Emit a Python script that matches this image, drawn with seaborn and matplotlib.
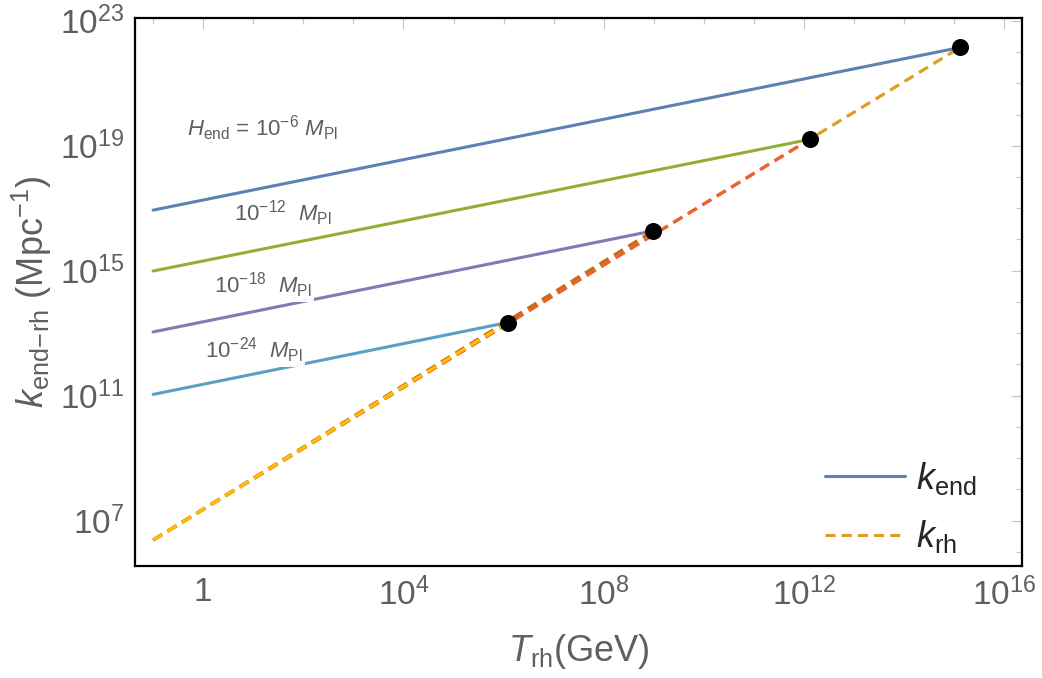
import matplotlib
matplotlib.use("Agg")
import matplotlib.lines as mlines
import matplotlib.pyplot as plt
import matplotlib.ticker as mticker
import pandas as pd
import seaborn as sns

# reheating temperature (GeV) where the curves start, and where each one ends
T_min = 0.1
T_end = [1.3e15, 1.3e12, 9.8e8, 1.2e6]

# k_end at T_min and at T_end (k_end = k_rh at the end point), in Mpc^-1
k_end_lo = [8.7e16, 9.8e14, 1.1e13, 1.1e11]
k_end_hi = [1.4e22, 1.6e19, 1.9e16, 2.2e13]
# k_rh at T_min
k_rh_lo = 2.4e6

H_labels = [
    r"$H_{\mathrm{end}}$ = $10^{-6}$ $M_{\mathrm{Pl}}$",
    r"$10^{-12}$  $M_{\mathrm{Pl}}$",
    r"$10^{-18}$  $M_{\mathrm{Pl}}$",
    r"$10^{-24}$  $M_{\mathrm{Pl}}$",
]

x_ticks = [1, 1e4, 1e8, 1e12, 1e16]
x_tick_labels = ["1", r"$10^{4}$", r"$10^{8}$", r"$10^{12}$", r"$10^{16}$"]
y_ticks = [1e7, 1e11, 1e15, 1e19, 1e23]
y_tick_labels = [r"$10^{7}$", r"$10^{11}$", r"$10^{15}$", r"$10^{19}$", r"$10^{23}$"]

# mathematica default palette
end_colors = ["#5E81B5", "#8FB032", "#8778B3", "#5D9EC7"]
rh_colors = ["#E19C24", "#EB6235", "#C56E1A", "#FFBF00"]

sns.set_style("white")
plt.rcParams["font.family"] = ["Liberation Sans", "DejaVu Sans"]
plt.rcParams["mathtext.fontset"] = "custom"
plt.rcParams["mathtext.rm"] = "Liberation Sans"
plt.rcParams["mathtext.it"] = "Liberation Sans:italic"
plt.rcParams["mathtext.bf"] = "Liberation Sans:bold"

gray = "#5f5f5f"

# build long table: one row per point
rows = []
for i in range(len(T_end)):
    rows.append(dict(curve=f"end{i}", T=T_min, k=k_end_lo[i]))
    rows.append(dict(curve=f"end{i}", T=T_end[i], k=k_end_hi[i]))
    rows.append(dict(curve=f"rh{i}", T=T_min, k=k_rh_lo))
    rows.append(dict(curve=f"rh{i}", T=T_end[i], k=k_end_hi[i]))
df = pd.DataFrame(rows)

fig = plt.figure(figsize=(10.42, 6.78), dpi=100)
ax = fig.add_axes([0.1296, 0.1652, 0.8512, 0.8083])

for i in range(len(T_end)):
    sns.lineplot(
        data=df[df["curve"] == f"end{i}"], x="T", y="k",
        color=end_colors[i], linewidth=2.2, sort=False, estimator=None, ax=ax,
    )
for i in range(len(T_end)):
    sns.lineplot(
        data=df[df["curve"] == f"rh{i}"], x="T", y="k",
        color=rh_colors[i], linewidth=2.3, linestyle=(0, (3.3, 2.0)),
        sort=False, estimator=None, ax=ax,
    )

sns.scatterplot(x=T_end, y=k_end_hi, color="black", s=150, linewidth=0, zorder=5, ax=ax)

ax.set_xscale("log")
ax.set_yscale("log")
ax.set_xlim(10**-1.36, 10**16.35)
ax.set_ylim(10**5.55, 10**23.09)

ax.xaxis.set_major_locator(mticker.FixedLocator(x_ticks))
ax.xaxis.set_major_formatter(mticker.FixedFormatter(x_tick_labels))
ax.xaxis.set_minor_locator(mticker.FixedLocator([10.0**e for e in range(-1, 17)]))
ax.xaxis.set_minor_formatter(mticker.NullFormatter())
ax.yaxis.set_major_locator(mticker.FixedLocator(y_ticks))
ax.yaxis.set_major_formatter(mticker.FixedFormatter(y_tick_labels))
ax.yaxis.set_minor_locator(mticker.FixedLocator([10.0**e for e in range(6, 24)]))
ax.yaxis.set_minor_formatter(mticker.NullFormatter())

ax.tick_params(which="both", direction="in", top=True, right=True, color="#c4c4c4", width=0.8)
ax.tick_params(which="major", length=8, labelsize=24, labelcolor=gray, pad=8)
ax.tick_params(which="minor", length=4)

for s in ax.spines.values():
    s.set_color("black")
    s.set_linewidth(1.6)

ax.set_xlabel(r"$T_{\mathrm{rh}}$(GeV)", fontsize=26, color=gray, labelpad=15)
ax.set_ylabel(r"$k_{\mathrm{end\!-\!rh}}$ (Mpc$^{-1}$)", fontsize=26, color=gray, labelpad=4)

# curve labels
label_pos = [(10**1.18, 10**19.57), (10**1.60, 10**16.85), (10**1.20, 10**14.54), (10**1.02, 10**12.47)]
for (lx, ly), txt in zip(label_pos, H_labels):
    ax.text(
        lx, ly, txt, fontsize=16, color=gray, ha="center", va="center", zorder=4,
        bbox=dict(facecolor="white", edgecolor="none", pad=1.5, alpha=0.95),
    )

handles = [
    mlines.Line2D([], [], color=end_colors[0], linewidth=2.2, label=r"$k_{\mathrm{end}}$"),
    mlines.Line2D([], [], color=rh_colors[0], linewidth=2.2, linestyle=(0, (3.3, 2.0)),
                  label=r"$k_{\mathrm{rh}}$"),
]
ax.legend(
    handles=handles, loc="lower right", frameon=False, fontsize=26,
    handlelength=2.2, handletextpad=0.3, labelspacing=0.6,
    bbox_to_anchor=(0.985, -0.04),
)

fig.savefig("out.png", dpi=100)
